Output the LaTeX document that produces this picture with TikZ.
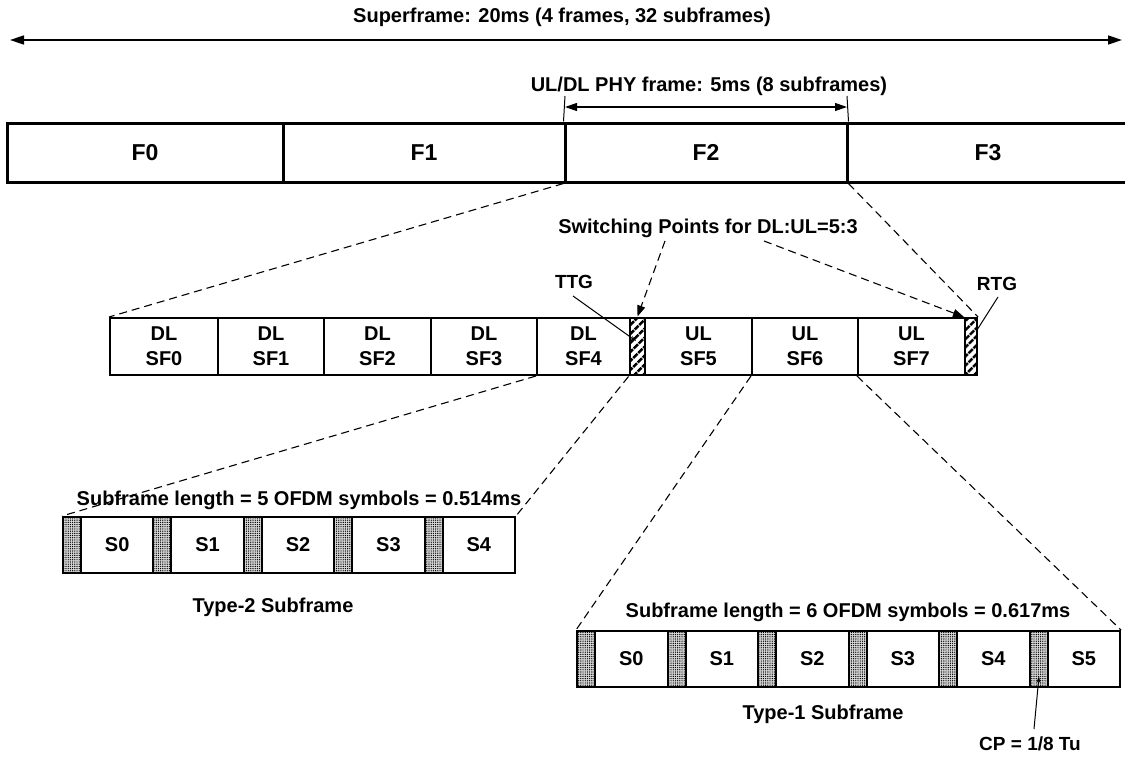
\documentclass[tikz,border=0pt]{standalone}
\usepackage{fontspec}
\setmainfont{Liberation Sans}
\usetikzlibrary{arrows.meta,patterns,patterns.meta}
\begin{document}
\begin{tikzpicture}[x=1pt,y=-1pt,
  txt/.style={font=\bfseries\fontsize{20}{24}\selectfont, inner sep=0},
  smtxt/.style={font=\bfseries\fontsize{19}{22}\selectfont, inner sep=0},
  frm/.style={draw, line width=3pt, minimum height=59pt, inner sep=0, font=\bfseries\fontsize{23}{26}\selectfont},
  sfbox/.style={draw, line width=2pt, minimum height=57pt, inner sep=0, align=center, font=\bfseries\fontsize{20}{25}\selectfont},
  gapbox/.style={draw, line width=2pt, minimum height=57pt, inner sep=0, pattern={Lines[angle=45,distance=6.5pt,line width=3pt]}},
  cpbox/.style={draw, line width=2pt, minimum height=56pt, minimum width=18pt, inner sep=0, preaction={fill=gray!30}, pattern={Dots[distance=2.2pt,radius=0.7pt]}},
  symbox/.style={draw, line width=2pt, minimum height=56pt, inner sep=0, font=\bfseries\fontsize{20}{24}\selectfont},
  dsh/.style={dash pattern=on 8pt off 5pt, line width=1.1pt},
  bigtip/.style={{Triangle[length=14pt,width=9pt]}-{Triangle[length=14pt,width=9pt]}, line width=1.5pt},
  midtip/.style={{Triangle[length=12pt,width=8pt]}-{Triangle[length=12pt,width=8pt]}, line width=1.2pt},
  thin/.style={line width=1pt}
]
\useasboundingbox (0,0) rectangle (1125,760);

% superframe
\node[txt] (sftitle) at (562,17) {Superframe: 20ms (4 frames, 32 subframes)};
\coordinate (sfL) at (10,40);
\coordinate (sfR) at (1122,40);
\draw[bigtip] (sfL) -- (sfR);

% frames
\node[frm, minimum width=276pt] (F0) at (145,152.5) {F0};
\node[frm, minimum width=282pt] (F1) at (424,152.5) {F1};
\node[frm, minimum width=282pt] (F2) at (706,152.5) {F2};
\node[frm, minimum width=290pt] (F3) at (992,152.5) {};
\node[font=\bfseries\fontsize{23}{26}\selectfont] (F3t) at (988,152.5) {F3};

% PHY frame
\node[txt] (phy) at (709,86) {UL/DL PHY frame: 5ms (8 subframes)};
\coordinate (phyL) at (565,96);
\coordinate (phyR) at (847,96);
\draw[thin] (phyL) -- (F2.north west);
\draw[thin] (phyR) -- (F2.north east);
\draw[midtip] (565,107) -- (847,107);

% subframes
\node[sfbox, minimum width=108pt] (SF0) at (164,346.5) {DL\\SF0};
\node[sfbox, minimum width=106pt] (SF1) at (271,346.5) {DL\\SF1};
\node[sfbox, minimum width=107pt] (SF2) at (377.5,346.5) {DL\\SF2};
\node[sfbox, minimum width=106pt] (SF3) at (484,346.5) {DL\\SF3};
\node[sfbox, minimum width=93pt] (SF4) at (583.5,346.5) {DL\\SF4};
\node[gapbox, minimum width=15pt] (TTG) at (637.5,346.5) {};
\node[sfbox, minimum width=107pt] (SF5) at (698.5,346.5) {UL\\SF5};
\node[sfbox, minimum width=106pt] (SF6) at (805,346.5) {UL\\SF6};
\node[sfbox, minimum width=107pt] (SF7) at (911.5,346.5) {UL\\SF7};
\node[gapbox, minimum width=12pt] (RTG) at (971,346.5) {};

\draw[dsh] (F2.south west) -- (SF0.north west);
\draw[dsh] (F2.south east) -- (RTG.north east);

% switching points
\node[txt] (sw) at (708,228) {Switching Points for DL:UL=5:3};
\coordinate (swA) at (665,241);
\coordinate (swB) at (764,241);
\draw[dsh, -{Triangle[length=11pt,width=8pt]}] (swA) -- (TTG.north);
\draw[dsh, -{Triangle[length=11pt,width=8pt]}] (swB) -- (RTG.north west);

\node[smtxt] (ttg) at (574,282) {TTG};
\coordinate (ttgT) at (636,341);
\draw[thin, -{Stealth[length=6pt,width=4pt]}] (573,296) -- (ttgT);
\node[smtxt] (rtg) at (997,284) {RTG};
\coordinate (rtgT) at (977,330);
\draw[thin] (998,297) -- (rtgT);

% type-2 subframe
\node[txt] (t2len) at (299,500) {Subframe length = 5 OFDM symbols = 0.514ms};
\foreach \i in {0,...,4}{
  \node[cpbox] (t2c\i) at ({72+\i*90.4},545) {};
  \node[symbox, minimum width=72.4pt] (t2s\i) at ({117.2+\i*90.4},545) {S\i};
}
\node[txt] (t2lab) at (273,607) {Type-2 Subframe};
\draw[dsh] (SF4.south west) -- (t2c0.north west);
\draw[dsh] (TTG.south west) -- (t2s4.north east);

% type-1 subframe
\node[txt] (t1len) at (848,612) {Subframe length = 6 OFDM symbols = 0.617ms};
\foreach \i in {0,...,5}{
  \node[cpbox] (t1c\i) at ({586+\i*90.5},659) {};
  \node[symbox, minimum width=72.5pt] (t1s\i) at ({631.25+\i*90.5},659) {S\i};
}
\node[txt] (t1lab) at (823,714) {Type-1 Subframe};
\draw[dsh] (SF6.south west) -- (t1c0.north west);
\draw[dsh] (SF7.south west) -- (t1s5.north east);

\node[smtxt] (cpl) at (1030,744) {CP = 1/8 Tu};
\coordinate (cpS) at (1034,729);
\coordinate (cpT) at (1039,676);
\draw[thin, -{Stealth[length=7pt,width=4pt]}] (cpS) -- (cpT);
\end{tikzpicture}
\end{document}
